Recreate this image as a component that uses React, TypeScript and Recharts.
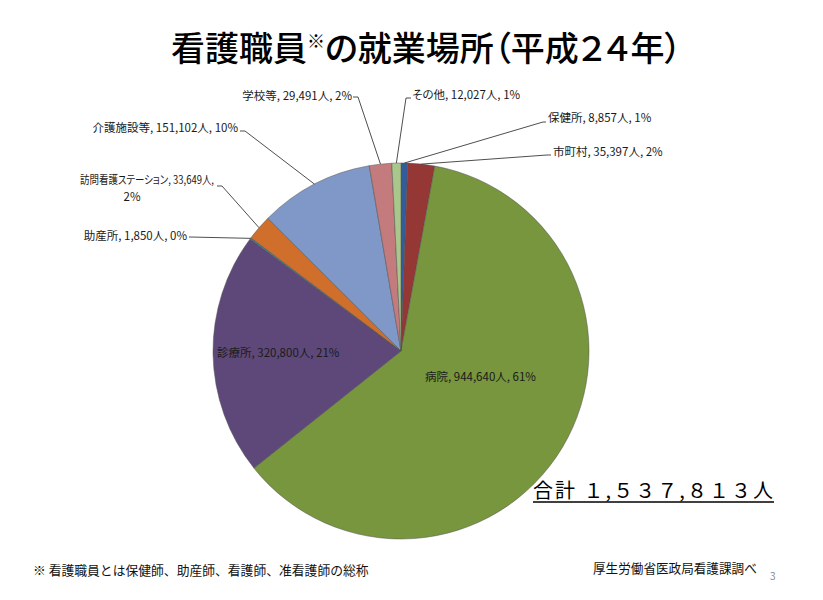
import { Cell, Pie, PieChart } from "recharts";

const NAMES = [
  "保健所",
  "市町村",
  "病院",
  "診療所",
  "助産所",
  "訪問看護ステーション",
  "介護施設等",
  "学校等",
  "その他",
];
const COUNTS = [8857, 35397, 944640, 320800, 1850, 33649, 151102, 29491, 12027];
const COLORS = [
  "#335d9a",
  "#953735",
  "#77963d",
  "#5e4879",
  "#31869b",
  "#d06f2c",
  "#7f98c7",
  "#c47b7d",
  "#a9c68b",
];
const TOTAL_LABEL = "合計 １,５３７,８１３人";

const data = NAMES.map((name, i) => ({ name, value: COUNTS[i] }));

// where each label sits; lead = [x near text, elbow x, elbow y]
type Spot = {
  x: number;
  y: number;
  anchor: "start" | "end";
  lead?: [number, number, number];
  x2?: number;
  y2?: number;
  fit?: number;
};
const SPOTS: Record<string, Spot> = {
  保健所: { x: 548, y: 122, anchor: "start", lead: [546, 543, 122] },
  市町村: { x: 553, y: 156, anchor: "start", lead: [551, 547, 155] },
  病院: { x: 425, y: 381, anchor: "start" },
  診療所: { x: 217, y: 357, anchor: "start" },
  助産所: { x: 187, y: 240, anchor: "end", lead: [189, 190, 237] },
  訪問看護ステーション: { x: 214, y: 184, anchor: "end", lead: [217, 222, 186], x2: 132, y2: 201, fit: 134 },
  介護施設等: { x: 238, y: 132, anchor: "end", lead: [240, 245, 131] },
  学校等: { x: 352, y: 100, anchor: "end", lead: [353, 358, 97] },
  その他: { x: 412, y: 99, anchor: "start", lead: [411, 406, 98] },
};

const LABEL_FONT = "'Noto Sans CJK JP', 'Noto Sans', sans-serif";
const RAD = Math.PI / 180;

function SliceLabel(props: any) {
  const { cx, cy, midAngle, outerRadius, name, value, percent } = props;
  const spot = SPOTS[name];
  if (!spot) return null;
  const pct = Math.round(percent * 100);
  const sx = cx + outerRadius * Math.cos(-midAngle * RAD);
  const sy = cy + outerRadius * Math.sin(-midAngle * RAD);
  const head = `${name}, ${value.toLocaleString("en-US")}人,`;
  const style = { fontFeatureSettings: '"palt"' };
  return (
    <g>
      {spot.lead && (
        <polyline
          points={`${spot.lead[0]},${spot.lead[2]} ${spot.lead[1]},${spot.lead[2]} ${sx},${sy}`}
          fill="none"
          stroke="#3a3a3a"
          strokeWidth={0.9}
        />
      )}
      {spot.x2 !== undefined ? (
        <>
          <text
            x={spot.x}
            y={spot.y}
            textAnchor={spot.anchor}
            fontFamily={LABEL_FONT}
            fontSize={11.5}
            fill="#1a1a1a"
            style={style}
            textLength={spot.fit}
            lengthAdjust="spacingAndGlyphs"
          >
            {head}
          </text>
          <text x={spot.x2} y={spot.y2} textAnchor="middle" fontFamily={LABEL_FONT} fontSize={11.5} fill="#1a1a1a" style={style}>
            {`${pct}%`}
          </text>
        </>
      ) : (
        <text x={spot.x} y={spot.y} textAnchor={spot.anchor} fontFamily={LABEL_FONT} fontSize={11.5} fill="#1a1a1a" style={style}>
          {`${head} ${pct}%`}
        </text>
      )}
    </g>
  );
}

export default function App() {
  const font = "'Noto Sans CJK JP', sans-serif";
  return (
    <div style={{ position: "absolute", left: 0, top: 0, width: 823, height: 600, background: "#fff" }}>
      <PieChart width={823} height={600} margin={{ top: 0, right: 0, bottom: 0, left: 0 }}>
        <Pie
          data={data}
          dataKey="value"
          nameKey="name"
          cx={401}
          cy={351}
          outerRadius={188}
          startAngle={90}
          endAngle={-270}
          stroke="#505050"
          strokeWidth={0.5}
          label={SliceLabel}
          labelLine={false}
          isAnimationActive={false}
        >
          {data.map((d, i) => (
            <Cell key={d.name} fill={COLORS[i]} />
          ))}
        </Pie>
      </PieChart>
      <svg
        width={823}
        height={600}
        style={{ position: "absolute", left: 0, top: 0, pointerEvents: "none" }}
      >
        <text x={171} y={61} fontFamily={font} fontSize={34} fontWeight={500} fill="#000" style={{ fontFeatureSettings: '"palt"' }}>
          看護職員
          <tspan fontSize={18} dy={-13}>※</tspan>
          <tspan dy={13}>の就業場所（平成２４年）</tspan>
        </text>
        <text x={533} y={498} fontFamily={font} fontSize={20} fill="#000" textLength={240} lengthAdjust="spacing">
          {TOTAL_LABEL}
        </text>
        <line x1={533} y1={502} x2={774} y2={502} stroke="#000" strokeWidth={1.5} />
        <text x={33} y={575} fontFamily={font} fontSize={12.8} fill="#111">
          ※ 看護職員とは保健師、助産師、看護師、准看護師の総称
        </text>
        <text x={593} y={573} fontFamily={font} fontSize={12.6} fill="#111">
          厚生労働省医政局看護課調べ
        </text>
        <text x={770} y={580} fontFamily={font} fontSize={10} fill="#888">
          3
        </text>
      </svg>
    </div>
  );
}
